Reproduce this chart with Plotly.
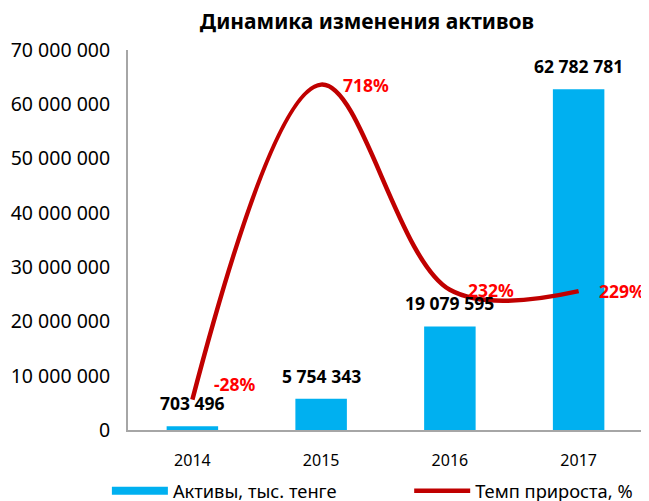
import plotly.graph_objects as go

years = ["2014", "2015", "2016", "2017"]
assets = [703496, 5754343, 19079595, 62782781]
asset_labels = ["703 496", "5 754 343", "19 079 595", "62 782 781"]
growth = [-28, 718, 232, 229]
growth_labels = ["-28%", "718%", "232%", "229%"]

FONT = "Noto Sans"
BLUE = "#00B0F0"
RED = "#C00000"

fig = go.Figure()
fig.add_trace(go.Bar(x=years, y=assets, name="Активы, тыс. тенге",
                     marker=dict(color=BLUE, line=dict(width=0)), width=0.4,
                     yaxis="y", showlegend=False))
fig.add_trace(go.Scatter(x=[None], y=[None], name="Активы, тыс. тенге", mode="lines",
                         line=dict(color=BLUE, width=8), yaxis="y", legend="legend"))
fig.add_trace(go.Scatter(x=years, y=growth, name="Темп прироста, %", mode="lines",
                         line=dict(color=RED, width=4.5, shape="spline", smoothing=1.0),
                         yaxis="y2", legend="legend2"))

for i, (v, t) in enumerate(zip(assets, asset_labels)):
    fig.add_annotation(x=i, y=v, xref="x", yref="y", text="<b>%s</b>" % t, showarrow=False,
                       yshift=23, font=dict(family=FONT, size=17.5, color="black"))

for i, (v, t) in enumerate(zip(growth, growth_labels)):
    fig.add_annotation(x=i, y=v, xref="x", yref="y2", text="<b>%s</b>" % t, showarrow=False,
                       xanchor="left", xshift=20 if i < 2 else (16 if i == 2 else 18),
                       yshift=16 if v < 0 else 0,
                       font=dict(family=FONT, size=17.5, color="#FF0000"))

legend_common = dict(orientation="h", xanchor="left", yanchor="middle",
                     font=dict(size=18.3), itemwidth=56, bgcolor="rgba(0,0,0,0)")

# the page body has an 8px margin, so the figure is laid out 8px smaller
fig.update_layout(
    width=641, height=493,
    margin=dict(l=120, r=6, t=42, b=71, autoexpand=False),
    paper_bgcolor="white", plot_bgcolor="white",
    font=dict(family=FONT, size=16, color="black"),
    title=dict(text="<b>Динамика изменения активов</b>", x=0.56, xanchor="center",
               y=0.972, yanchor="middle", font=dict(family=FONT, size=21, color="black")),
    xaxis=dict(range=[-0.5, 3.5], showline=True, linecolor="#A6A6A6", linewidth=2,
               ticks="", showgrid=False, tickfont=dict(size=16), ticklabelstandoff=15),
    yaxis=dict(range=[0, 70000000], dtick=10000000, showline=True, linecolor="#A6A6A6",
               linewidth=2, showgrid=False, zeroline=False, ticks="",
               tickformat=",d", tickfont=dict(size=19.5),
               ticklabelstandoff=12),
    yaxis2=dict(range=[-100, 800], dtick=100, overlaying="y", side="right",
                showline=True, linecolor="#A6A6A6", linewidth=2, showgrid=False,
                zeroline=False, ticks="outside", ticklen=8, tickcolor="#A6A6A6",
                tickwidth=2, showticklabels=False),
    separators=". ",
    showlegend=True,
    legend=dict(x=-0.041, y=-0.16, **legend_common),
    legend2=dict(x=0.546, y=-0.16, **legend_common),
)
fig.write_html("out.html")
